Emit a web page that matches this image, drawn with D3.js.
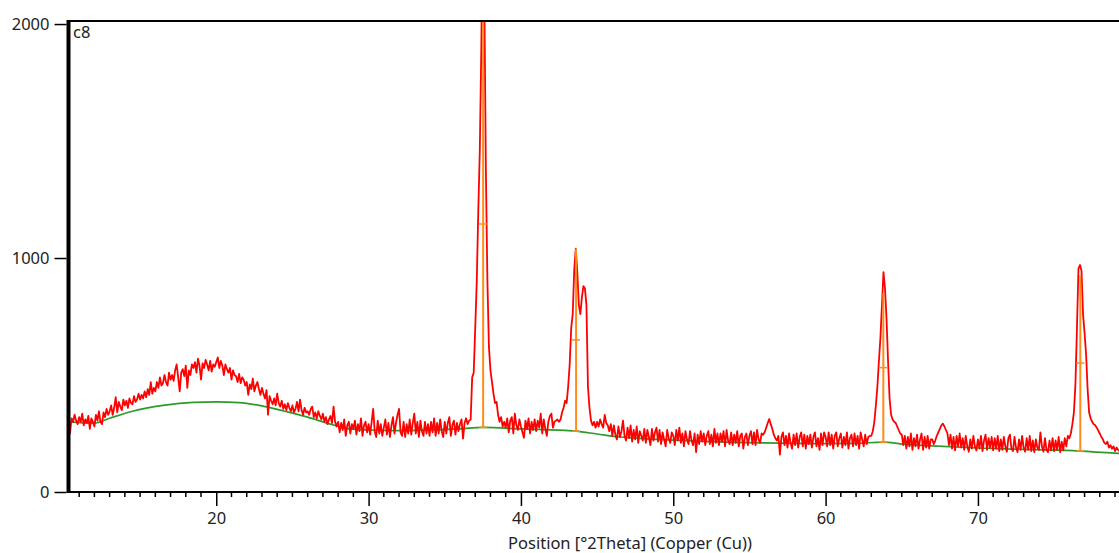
<!DOCTYPE html>
<html><head><meta charset="utf-8">
<script src="https://cdn.jsdelivr.net/npm/d3@7"></script>
<style>
html,body{margin:0;padding:0;background:#fff;}
svg{display:block;font-family:"Noto Sans","Open Sans",sans-serif;}
</style></head>
<body><svg id="chart" width="1119" height="553"></svg>
<script>
// ---- data ----
const angleStart = 10.3, angleStep = 0.1;
const counts = [
320,250,315,300,330,305,290,
320,300,335,285,310,295,325,270,315,300,
280,330,305,345,300,290,340,320,355,330,
345,370,330,360,405,340,385,365,350,395,
370,390,360,400,380,375,410,385,395,420,
395,415,400,430,405,440,415,470,420,445,
430,470,445,490,455,465,500,470,455,510,
480,500,475,520,545,490,430,510,525,495,
540,445,520,500,545,530,555,510,570,540,
480,550,530,565,545,520,560,515,545,535,
555,575,530,560,540,500,545,525,510,530,
480,520,500,495,470,505,465,490,480,455,
470,415,460,440,485,430,455,470,440,415,
445,420,400,435,330,410,390,375,400,370,
420,380,365,390,355,375,350,380,360,345,
370,340,355,385,345,395,350,330,360,340,
345,330,355,365,320,340,315,345,325,310,
335,300,320,290,310,325,295,365,300,280,
300,255,295,265,310,240,285,300,250,290,
270,305,245,290,260,315,240,285,300,255,
290,245,300,355,260,235,305,250,290,240,
275,310,245,295,235,285,320,250,295,330,
355,255,240,300,235,290,250,310,245,295,
335,250,300,235,305,260,240,300,250,290,
240,300,255,315,240,295,250,310,260,235,
300,250,295,320,240,285,305,245,295,260,
290,310,228,295,315,290,305,310,490,510,
700,900,1200,1460,1900,2500,2100,1370,900,620,
520,470,420,380,385,330,300,320,280,300,
275,315,255,305,320,250,335,285,265,310,
280,255,232,305,270,315,250,300,265,310,
260,305,275,335,250,310,270,240,300,325,
335,275,300,305,310,300,310,340,360,390,
380,450,545,700,760,950,1040,940,800,760,
830,880,870,800,450,360,305,285,300,275,
300,280,310,290,275,330,295,285,260,290,
240,285,245,225,280,235,260,305,240,220,
275,230,285,215,265,225,280,210,260,240,
220,270,210,265,235,200,270,220,255,275,
215,265,205,255,225,195,265,230,210,255,
240,200,265,220,275,210,250,195,260,225,
205,260,220,200,250,170,245,205,260,215,
250,200,240,260,205,245,195,270,210,250,
200,250,215,260,195,265,220,205,255,200,
245,210,260,195,240,250,185,235,250,200,
240,260,205,255,200,265,225,210,250,245,
255,275,295,312,290,270,245,230,220,240,
160,235,255,200,240,190,250,210,185,245,
200,250,190,235,255,195,245,185,240,205,
245,190,235,255,195,230,180,250,200,255,
235,195,255,200,245,185,240,255,195,230,
250,190,235,200,255,185,230,245,195,250,
200,240,185,255,225,195,245,205,235,240,
240,260,300,370,450,560,660,800,940,870,
740,560,400,330,310,300,295,280,265,250,
245,200,240,185,235,195,250,180,230,195,
245,185,225,250,180,235,190,240,185,225,
225,205,220,240,255,270,285,292,280,265,
250,200,245,185,235,178,240,195,250,190,
230,180,240,195,172,225,185,240,195,178,
225,185,240,175,220,245,180,230,190,235,
178,230,185,240,175,225,180,235,195,172,
230,245,185,175,235,190,170,225,180,240,
190,172,230,180,240,175,220,170,225,190,
180,255,195,172,230,180,170,220,178,230,
175,220,180,235,170,215,178,230,195,240,
230,250,290,340,460,700,955,970,945,760,
680,590,440,340,315,300,290,285,275,262,
250,235,225,210,205,215,190,200,185,195,
175,190,180,175
];
const bgAngles = [10.3,12.0,13.0,14.5,16.5,18.5,20.0,21.5,23.0,24.5,26.0,27.5,28.5,30.0,32.0,34.0,36.0,37.5,40.0,43.6,45.0,46.5,48.0,50.0,52.0,54.0,56.0,58.0,60.0,62.0,63.8,65.0,67.0,70.0,73.0,76.7,79.3];
const bgCounts = [300,294,315,345,370,383,385,382,368,345,320,290,272,265,262,265,270,276,270,260,248,235,228,222,216,212,210,208,207,208,213,205,197,188,182,175,165];
const peakAngles = [37.52, 43.62, 63.79, 76.72];
const peakTops = [2015, 1040, 850, 927];
const peakBases = [276, 260, 213, 175];
const yTicks = [0, 1000, 2000];
const xTicks = [20, 30, 40, 50, 60, 70];
const xTitle = "Position [°2Theta] (Copper (Cu))";
const sampleName = "c8";

// ---- layout ----
const svg = d3.select("#chart");
const L = 68.5, R = 1119.6, T = 21, B = 492;
const x = d3.scaleLinear().domain([10.3, 79.3]).range([L, R]);
const y = d3.scaleLinear().domain([0, 2013]).range([B, T]);
const FS = 16.5;

svg.append("clipPath").attr("id","clip").append("rect")
  .attr("x", L).attr("y", T).attr("width", R - L).attr("height", B - T);

const data = counts.map((c, i) => [+(angleStart + i * angleStep).toFixed(2), c]);
const plot = svg.append("g").attr("clip-path", "url(#clip)");

// background
plot.append("path")
  .datum(bgAngles.map((a, i) => [a, bgCounts[i]]))
  .attr("fill", "none").attr("stroke", "#2e9a2e").attr("stroke-width", 1.7)
  .attr("d", d3.line().x(d => x(d[0])).y(d => y(d[1])).curve(d3.curveMonotoneX));

// measured profile
plot.append("path").datum(data)
  .attr("fill", "none").attr("stroke", "#ff0000").attr("stroke-width", 1.8)
  .attr("stroke-linejoin", "round")
  .attr("d", d3.line().x(d => x(d[0])).y(d => y(d[1])));

// peak sticks
const pk = plot.append("g").attr("stroke", "#ff8c1a").attr("stroke-width", 2);
peakAngles.forEach((a, i) => {
  pk.append("line").attr("x1", x(a)).attr("x2", x(a)).attr("y1", y(peakBases[i])).attr("y2", y(peakTops[i]));
  const mid = (peakBases[i] + peakTops[i]) / 2;
  pk.append("line").attr("x1", x(a) - 4).attr("x2", x(a) + 4).attr("y1", y(mid)).attr("y2", y(mid)).attr("stroke-width", 1.5);
  pk.append("line").attr("x1", x(a) - 4).attr("x2", x(a) + 4).attr("y1", y(peakBases[i])).attr("y2", y(peakBases[i])).attr("stroke-width", 1.5);
});

// frame
svg.append("line").attr("x1", L).attr("x2", 1119).attr("y1", T).attr("y2", T).attr("stroke", "#000").attr("stroke-width", 2);
svg.append("line").attr("x1", L).attr("x2", 1119).attr("y1", B).attr("y2", B).attr("stroke", "#000").attr("stroke-width", 2);
svg.append("line").attr("x1", L).attr("x2", L).attr("y1", T - 1).attr("y2", B + 1).attr("stroke", "#000").attr("stroke-width", 4);

// y axis
const ya = svg.append("g").attr("transform", `translate(${L - 2},0)`)
  .call(d3.axisLeft(y).tickValues(yTicks).tickSize(12).tickPadding(5).tickFormat(d3.format("d")));
ya.select(".domain").remove();
ya.selectAll("line").attr("stroke", "#000").attr("stroke-width", 1.5);
ya.selectAll("text").attr("font-size", FS).attr("fill", "#222").attr("font-family", "Noto Sans");

// x axis major
const xa = svg.append("g").attr("transform", `translate(0,${B})`)
  .call(d3.axisBottom(x).tickValues(xTicks).tickSize(14).tickPadding(6));
xa.select(".domain").remove();
xa.selectAll("line").attr("stroke", "#000").attr("stroke-width", 1.5);
xa.selectAll("text").attr("font-size", FS).attr("fill", "#222").attr("font-family", "Noto Sans");
// minor ticks
const minor = d3.range(11, 80).filter(v => v % 10 !== 0);
svg.append("g").selectAll("line").data(minor).join("line")
  .attr("x1", d => x(d)).attr("x2", d => x(d)).attr("y1", B).attr("y2", B + 5)
  .attr("stroke", "#000").attr("stroke-width", 1.5);

svg.append("text").attr("x", 630).attr("y", 549).attr("text-anchor", "middle")
  .attr("font-size", FS).attr("fill", "#222").text(xTitle);
svg.append("text").attr("x", 73).attr("y", 38).attr("font-size", FS).attr("fill", "#222").text(sampleName);
</script></body></html>
